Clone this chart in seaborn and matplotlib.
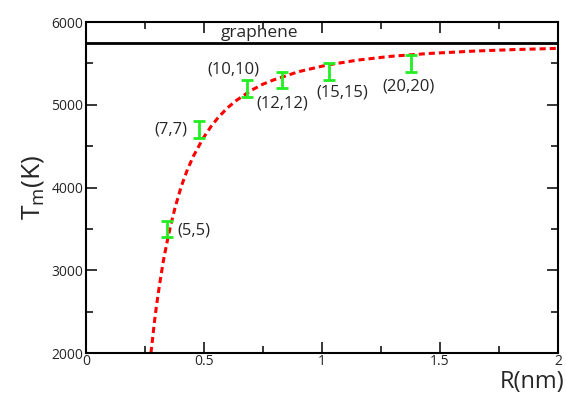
import matplotlib
matplotlib.use("Agg")
import matplotlib.pyplot as plt
import numpy as np
import pandas as pd
import seaborn as sns
from matplotlib.ticker import MultipleLocator

# Data
tube_labels = ["(5,5)", "(7,7)", "(10,10)", "(12,12)", "(15,15)", "(20,20)"]
radius = [0.343, 0.479, 0.682, 0.830, 1.030, 1.376]
melt_temp = [3500, 4700, 5200, 5300, 5400, 5500]
melt_err = [100, 100, 100, 100, 100, 100]

# dashed fit curve
fit_r = [0.275, 0.283, 0.29, 0.298, 0.306, 0.315, 0.328, 0.346, 0.36, 0.377,
         0.403, 0.43, 0.455, 0.497, 0.53, 0.561, 0.60, 0.638, 0.70, 0.75,
         0.794, 0.90, 1.02, 1.15, 1.288, 1.45, 1.65, 1.82, 2.0]
fit_t = [2000, 2200, 2380, 2560, 2720, 2890, 3120, 3380, 3560, 3755,
         4010, 4220, 4380, 4600, 4740, 4850, 4965, 5055, 5175, 5250,
         5300, 5400, 5480, 5540, 5585, 5620, 5650, 5668, 5682]

graphene_t = 5750

# label anchor positions (data coords)
label_x = [0.386, 0.428, 0.623, 0.830, 1.087, 1.368]
label_y = [3480, 4700, 5430, 5020, 5146, 5227]
label_ha = ["left", "right", "center", "center", "center", "center"]

sns.set_theme(style="ticks")
plt.rcParams["font.family"] = ["Open Sans", "DejaVu Sans"]

fig = plt.figure(figsize=(5.66, 3.94), dpi=100)
ax = fig.add_axes([0.152, 0.104, 0.834, 0.840])

fit_df = pd.DataFrame({"R": fit_r, "T": fit_t})
sns.lineplot(data=fit_df, x="R", y="T", ax=ax, color="red", lw=2.2,
             linestyle=(0, (2.0, 1.3)))

ax.axhline(graphene_t, color="black", lw=2)
ax.text(0.733, 5867, "graphene", ha="center", va="center", fontsize=12.5)

ax.errorbar(radius, melt_temp, yerr=melt_err, fmt="none", ecolor="#22ee22",
            elinewidth=2, capsize=4, capthick=2)
for lab, x, y, ha in zip(tube_labels, label_x, label_y, label_ha):
    ax.text(x, y, lab, ha=ha, va="center", fontsize=12)

ax.set_xlim(0, 2)
ax.set_ylim(2000, 6000)
ax.xaxis.set_minor_locator(MultipleLocator(0.25))
ax.yaxis.set_major_locator(MultipleLocator(1000))
ax.yaxis.set_minor_locator(MultipleLocator(500))
ax.set_xticks([0, 0.5, 1, 1.5, 2])
ax.set_xticklabels(["0", "0.5", "1", "1.5", "2"])

ax.tick_params(which="both", direction="in", top=True, right=True,
               labelsize=10, width=1.3, pad=2)
ax.tick_params(axis="x", pad=1)
ax.tick_params(which="major", length=8)
ax.tick_params(which="minor", length=5)
for s in ax.spines.values():
    s.set_linewidth(1.5)
    s.set_color("black")

ax.set_xlabel("")
ax.set_ylabel("$\\mathregular{T_m}$(K)", fontsize=19, labelpad=4)
fig.text(0.998, 0.0, "R(nm)", ha="right", va="bottom", fontsize=17)

fig.savefig("out.png", dpi=100)
